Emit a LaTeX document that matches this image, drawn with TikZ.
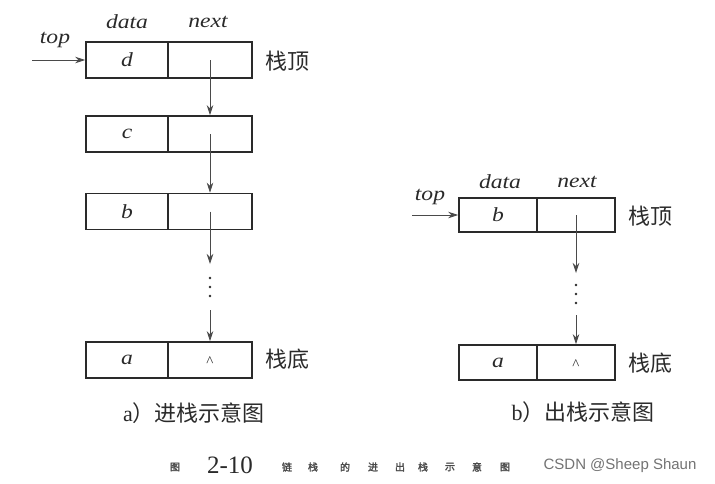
\documentclass[tikz,border=0pt]{standalone}
\usepackage{fontspec}
\setmainfont{Liberation Serif}
\newfontfamily\itf[FakeStretch=1.18]{Liberation Serif}
\newfontfamily\cjk{Noto Sans CJK SC}
\newfontfamily\cjkb[FakeBold=2]{Noto Sans CJK SC}
\newfontfamily\wm{Liberation Sans}
\usetikzlibrary{arrows.meta}
\definecolor{ink}{HTML}{2A2A2A}
\begin{document}
\begin{tikzpicture}[x=1pt,y=-1pt,
  cell/.style={draw=ink,line width=1.7pt,minimum height=36pt,inner sep=0pt,text=ink,font=\itf\fontsize{20}{20}\selectfont\itshape},
  lbl/.style={inner sep=0pt,text=ink,font=\itf\fontsize{20}{20}\selectfont\itshape},
  zh/.style={inner sep=0pt,text=ink,font=\cjk\fontsize{22}{22}\selectfont},
  arr/.style={draw=ink!85,line width=0.8pt,-{Stealth[length=10pt,width=6.5pt]}},
  dotsv/.style={fill=ink,circle,inner sep=0pt,minimum size=2.6pt},
  tiny/.style={inner sep=0pt,text=ink!85,font=\cjkb\fontsize{10}{10}\selectfont}]
\useasboundingbox (0,0) rectangle (715,483);
\fill[white] (0,0) rectangle (715,483);
% ---- left: push
\node[cell,minimum width=82pt] (dD) at (127,60) {d};
\node[cell,minimum width=84pt] (dN) at (210,60) {};
\node[cell,minimum width=82pt] (cD) at (127,134) {c};
\node[cell,minimum width=84pt] (cN) at (210,134) {};
\node[cell,minimum width=82pt] (bD) at (127,211.5) {b};
\node[cell,minimum width=84pt] (bN) at (210,211.5) {};
\node[cell,minimum width=82pt] (aD) at (127,360) {a};
\node[cell,minimum width=84pt] (aN) at (210,360) {};
\node[inner sep=0pt,text=ink,font=\fontsize{15}{15}\selectfont] (aNull) at (210,362) {\textasciicircum};
\node[lbl] (lData) at (127,22) {data};
\node[lbl] (lNext) at (208,22) {next};
\node[lbl] (lTop) at (55,40) {top};
\coordinate (lTopS) at (32,60);
\draw[arr] (lTopS) -- (dD.west);
\node[zh,anchor=west] (lTopZ) at (265,61) {栈顶};
\node[zh,anchor=west] (lBotZ) at (265,359) {栈底};
\draw[arr] (dN.center) -- (cN.north);
\draw[arr] (cN.center) -- (bN.north);
\coordinate (lA1) at (210,264);
\coordinate (lA2) at (210,310);
\draw[arr] (bN.center) -- (lA1);
\node[dotsv] (ld1) at (210,278) {};
\node[dotsv] (ld2) at (210,287) {};
\node[dotsv] (ld3) at (210,296) {};
\draw[arr] (lA2) -- (aN.north);
\node[zh] (capA) at (194,413) {{\rmfamily a}）进栈示意图};
% ---- right: pop
\node[cell,minimum width=78pt,minimum height=34pt] (rbD) at (498,215) {b};
\node[cell,minimum width=78pt,minimum height=34pt] (rbN) at (576,215) {};
\node[cell,minimum width=78pt,minimum height=35pt] (raD) at (498,362.5) {a};
\node[cell,minimum width=78pt,minimum height=35pt] (raN) at (576,362.5) {};
\node[inner sep=0pt,text=ink,font=\fontsize{15}{15}\selectfont] (raNull) at (576,365) {\textasciicircum};
\node[lbl] (rData) at (500,182) {data};
\node[lbl] (rNext) at (577,182) {next};
\node[lbl] (rTop) at (430,197) {top};
\coordinate (rTopS) at (412,215);
\draw[arr] (rTopS) -- (rbD.west);
\node[zh,anchor=west] (rTopZ) at (628,216) {栈顶};
\node[zh,anchor=west] (rBotZ) at (628,363) {栈底};
\coordinate (rA1) at (576,273);
\coordinate (rA2) at (576,315);
\draw[arr] (rbN.center) -- (rA1);
\node[dotsv] (rd1) at (576,285) {};
\node[dotsv] (rd2) at (576,294) {};
\node[dotsv] (rd3) at (576,303) {};
\draw[arr] (rA2) -- (raN.north);
\node[zh] (capB) at (583,412) {{\rmfamily b}）出栈示意图};
% ---- figure caption
\node[tiny] (f0) at (175,467) {图};
\node[inner sep=0pt,text=ink,font=\fontsize{25}{25}\selectfont] (fNum) at (230,465) {2-10};
\node[tiny] (f1) at (287,467) {链};
\node[tiny] (f2) at (313,467) {栈};
\node[tiny] (f3) at (345,467) {的};
\node[tiny] (f4) at (373,467) {进};
\node[tiny] (f5) at (400,467) {出};
\node[tiny] (f6) at (423,467) {栈};
\node[tiny] (f7) at (450,467) {示};
\node[tiny] (f8) at (477,467) {意};
\node[tiny] (f9) at (505,467) {图};
\node[inner sep=0pt,text=black!55,font=\wm\fontsize{15}{15}\selectfont] (wmk) at (620,466) {CSDN @Sheep Shaun};
\end{tikzpicture}
\end{document}
